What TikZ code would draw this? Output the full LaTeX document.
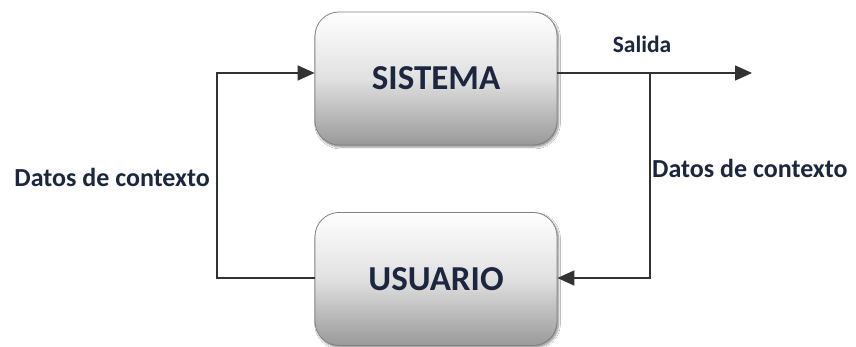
\documentclass[tikz,border=0pt]{standalone}
\usepackage{fontspec}
\setmainfont{Carlito}
\usetikzlibrary{arrows.meta,shadows.blur}
\definecolor{inkblue}{RGB}{28,38,62}
\definecolor{wire}{RGB}{50,50,50}
\definecolor{boxedge}{RGB}{130,130,130}
\tikzset{
  block/.style={draw=boxedge, line width=0.8pt, rounded corners=24pt,
    minimum width=242pt, minimum height=133pt,
    top color=white, bottom color=black!40, middle color=black!12,
    blur shadow={shadow xshift=1.5pt, shadow yshift=-2pt, shadow blur steps=6, shadow opacity=45},
    font=\bfseries\fontsize{35}{40}\selectfont, text=inkblue},
  wireline/.style={draw=wire, line width=1.4pt},
  flow/.style={wireline, -{Triangle[length=17pt,width=15pt]}},
  lbl/.style={font=\bfseries\fontsize{26}{30}\selectfont, text=inkblue, inner sep=0pt}
}
\begin{document}
\begin{tikzpicture}[x=1pt,y=1pt]
  \useasboundingbox[fill=white] (0,0) rectangle (856,-347);
  % the two blocks
  \node[block] (sys) at (436,-78.5) {SISTEMA};
  \node[block] (usr) at (436,-279) {USUARIO};
  % routing points
  \coordinate (split) at (650,-73);
  \coordinate (out) at (752,-73);
  \coordinate (lt) at (217,-73);
  \coordinate (lb) at (217,-278);
  \coordinate (rb) at (650,-278);
  % output path and the feedback from the output to the user
  \draw[flow] ([yshift=5.5pt]sys.east) -- (out);
  \draw[flow] (split) -- (rb) -- (usr.east |- rb);
  % the user feeds context back into the system
  \draw[flow] (usr.west |- lb) -- (lb) -- (lt) -- ([yshift=5.5pt]sys.west);
  % labels
  \node[lbl, font=\bfseries\fontsize{23.5}{27}\selectfont] (salida) at (642,-44) {Salida};
  \node[lbl, anchor=west] (ctxr) at (652,-168) {Datos de contexto};
  \node[lbl, anchor=east] (ctxl) at (210,-177) {Datos de contexto};
\end{tikzpicture}
\end{document}
